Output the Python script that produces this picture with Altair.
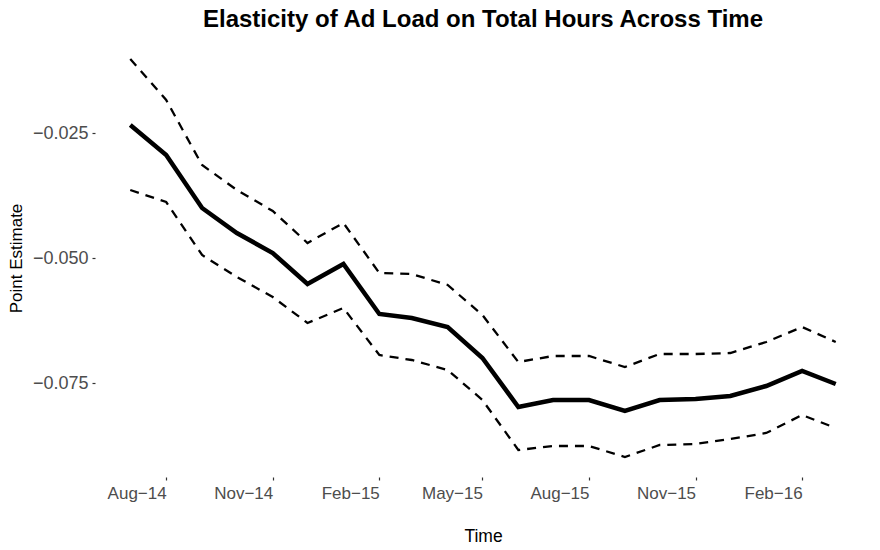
import altair as alt
import pandas as pd

months = ["2014-07-01", "2014-08-01", "2014-09-01", "2014-10-01", "2014-11-01", "2014-12-01",
          "2015-01-01", "2015-02-01", "2015-03-01", "2015-04-01", "2015-05-01", "2015-06-01",
          "2015-07-01", "2015-08-01", "2015-09-01", "2015-10-01", "2015-11-01", "2015-12-01",
          "2016-01-01", "2016-02-01", "2016-03-01"]
estimate = [-0.0234, -0.0294, -0.0400, -0.0450, -0.0490, -0.0552, -0.0512, -0.0612, -0.0620,
            -0.0638, -0.0700, -0.0798, -0.0784, -0.0784, -0.0806, -0.0784, -0.0782, -0.0776,
            -0.0756, -0.0726, -0.0752]
upper = [-0.0102, -0.0184, -0.0314, -0.0364, -0.0406, -0.0470, -0.0430, -0.0530, -0.0532,
         -0.0554, -0.0614, -0.0708, -0.0696, -0.0696, -0.0718, -0.0692, -0.0692, -0.0690,
         -0.0668, -0.0638, -0.0668]
lower = [-0.0364, -0.0388, -0.0494, -0.0538, -0.0578, -0.0630, -0.0600, -0.0694, -0.0704,
         -0.0724, -0.0784, -0.0884, -0.0876, -0.0876, -0.0898, -0.0874, -0.0872, -0.0862,
         -0.0850, -0.0814, -0.0840]
x_ticks = ["2014-08-01", "2014-11-01", "2015-02-01", "2015-05-01", "2015-08-01",
           "2015-11-01", "2016-02-01"]
y_ticks = [-0.025, -0.050, -0.075]

df = pd.DataFrame({"month": pd.to_datetime(months), "estimate": estimate,
                   "upper": upper, "lower": lower})

d0, d1 = df["month"].min(), df["month"].max()
pad = (d1 - d0) * 0.05
x_domain = [(d0 - pad).isoformat(), (d1 + pad).isoformat()]

FONT = "Liberation Sans"

x_enc = alt.X("month:T", title="Time",
              scale=alt.Scale(domain=x_domain),
              axis=alt.Axis(values=[pd.Timestamp(t).isoformat() for t in x_ticks],
                            format="%b\u2212%y", labelAlign="right", labelFontSize=17,
                            labelColor="#4d4d4d", labelFont=FONT, labelPadding=5,
                            tickSize=3, tickColor="#333333", tickWidth=1.2,
                            domain=False, grid=False, titleFont=FONT, titleFontSize=17.5,
                            titleFontWeight="normal", titleColor="black", titlePadding=26))

def y_enc(field):
    return alt.Y(f"{field}:Q", title="Point Estimate",
                 scale=alt.Scale(domain=[-0.0938, -0.0062], nice=False, zero=False),
                 axis=alt.Axis(values=y_ticks, format=".3f", labelFontSize=18,
                               labelColor="#4d4d4d", labelFont=FONT, labelPadding=4,
                               tickSize=3, tickColor="#333333", tickWidth=1.2,
                               domain=False, grid=False, titleFont=FONT, titleFontSize=17,
                               titleFontWeight="normal", titleColor="black", titlePadding=7))

base = alt.Chart(df)
main = base.mark_line(color="black", strokeWidth=4.5).encode(x=x_enc, y=y_enc("estimate"))
up = base.mark_line(color="black", strokeWidth=2.3, strokeDash=[9, 7]).encode(x=x_enc, y=y_enc("upper"))
lo = base.mark_line(color="black", strokeWidth=2.3, strokeDash=[9, 7]).encode(x=x_enc, y=y_enc("lower"))

chart = alt.layer(up, lo, main).properties(
    width=776, height=438,
    background="white",
    title=alt.TitleParams("Elasticity of Ad Load on Total Hours Across Time",
                          font=FONT, fontSize=24, fontWeight="bold", color="black",
                          anchor="middle", offset=7),
    autosize=alt.AutoSizeParams(type="none"),
    padding={"left": 87, "top": 31, "right": 1, "bottom": 70},
).configure_view(stroke=None)

chart.save("out.html", embed_options={"renderer": "svg", "actions": False})
